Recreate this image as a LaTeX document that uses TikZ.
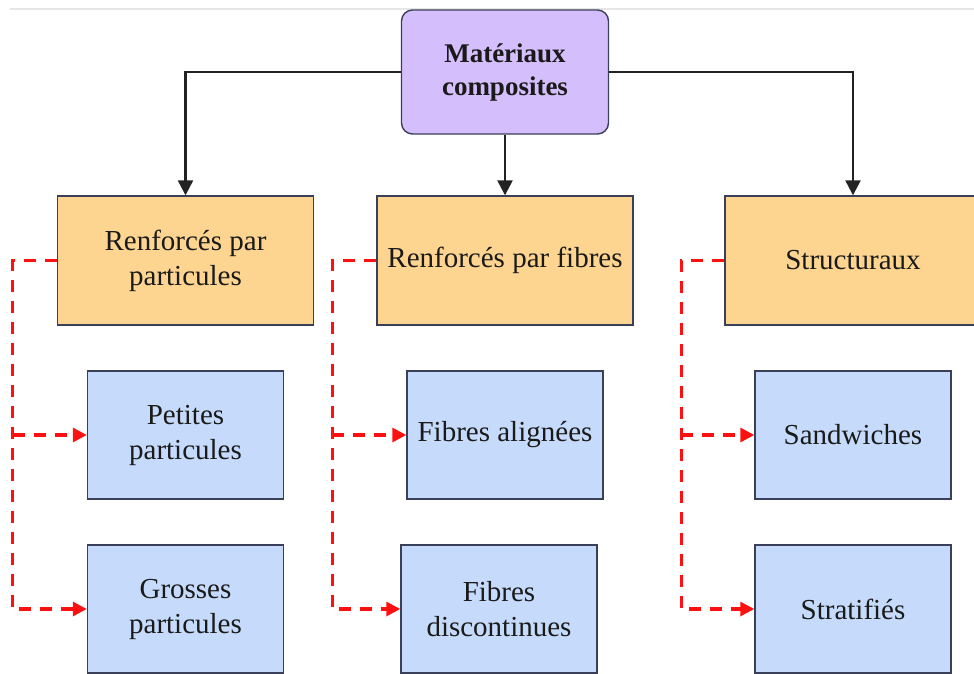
\documentclass[tikz,border=0pt]{standalone}
\usepackage{fontspec}
\setmainfont{Liberation Serif}
\usetikzlibrary{arrows.meta}

\definecolor{rootfill}{HTML}{D4BEFC}
\definecolor{groupfill}{HTML}{FDD591}
\definecolor{leaffill}{HTML}{C6DBFB}
\definecolor{boxline}{HTML}{3A3F5A}
\definecolor{textc}{HTML}{1A1A1A}
\definecolor{treec}{HTML}{222222}
\definecolor{subred}{HTML}{FF1010}
\definecolor{rulegray}{HTML}{E6E6E6}

\begin{document}
\begin{tikzpicture}[x=1pt,y=-1pt,
  box/.style={draw=boxline, line width=1.4pt, inner sep=0pt, align=center,
    text=textc, font=\fontsize{29}{35}\selectfont},
  rootbox/.style={box, fill=rootfill, rounded corners=11pt,
    minimum width=207pt, minimum height=124pt,
    font=\bfseries\fontsize{27}{33}\selectfont},
  groupbox/.style={box, fill=groupfill, minimum width=256pt, minimum height=129pt},
  leafbox/.style={box, fill=leaffill, minimum width=196pt, minimum height=128pt},
  tree/.style={draw=treec, line width=2.4pt, -{Triangle[length=15pt,width=15pt]}},
  sublink/.style={draw=subred, line width=3.2pt, dash pattern=on 12pt off 9pt,
    -{Triangle[length=14pt,width=14pt]}}
]
\useasboundingbox (0,0) rectangle (974,673);
\clip (0,0) rectangle (974,673);

% thin rule along the top edge
\draw[rulegray, line width=1.5pt] (10,9) -- (974,9);

% root
\node[rootbox] (root) at (505,72) {Matériaux\\composites};

% three families
\node[groupbox] (pA) at (185.5,260.5) {Renforcés par\\particules};
\node[groupbox] (pB) at (505,260.5) {Renforcés par fibres};
\node[groupbox] (pC) at (853,260.5) {Structuraux};

% sub-types
\node[leafbox] (a1) at (185.5,435) {Petites\\particules};
\node[leafbox] (a2) at (185.5,609) {Grosses\\particules};
\node[leafbox] (b1) at (505,435) {Fibres alignées};
\node[leafbox] (b2) at (499,609) {Fibres\\discontinues};
\node[leafbox] (c1) at (853,435) {Sandwiches};
\node[leafbox] (c2) at (853,609) {Stratifiés};

% root to families
\draw[tree] (root.west) -| (pA.north);
\draw[tree] (root.south) -- (pB.north);
\draw[tree] (root.east) -| (pC.north);

% families to sub-types
\draw[sublink] (pA.west) -- ++(-44,0) coordinate (tA) |- (a2.west);
\draw[sublink] (tA |- a1.west) -- (a1.west);
\draw[sublink] (pB.west) -- ++(-44,0) coordinate (tB) |- (b2.west);
\draw[sublink] (tB |- b1.west) -- (b1.west);
\draw[sublink] (pC.west) -- ++(-43,0) coordinate (tC) |- (c2.west);
\draw[sublink] (tC |- c1.west) -- (c1.west);
\end{tikzpicture}
\end{document}
